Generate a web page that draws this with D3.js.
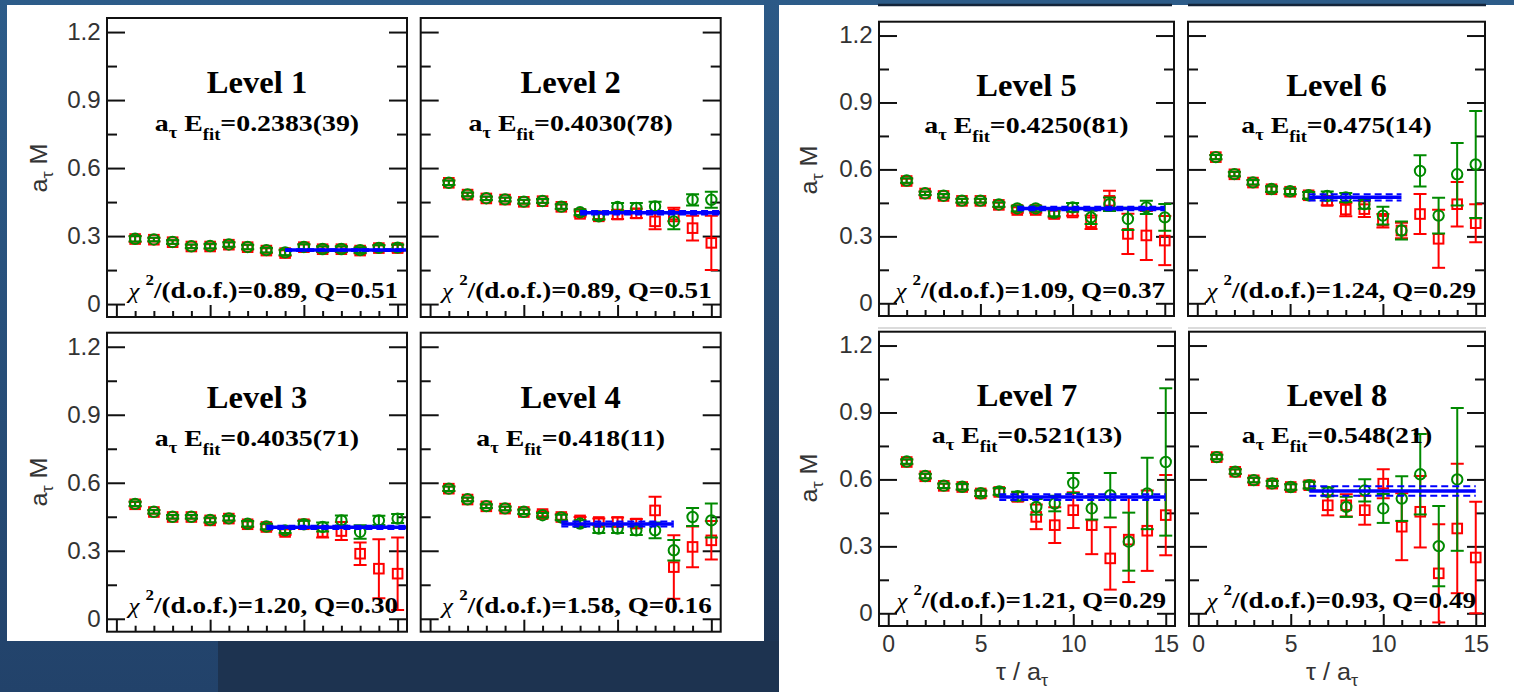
<!DOCTYPE html>
<html><head><meta charset="utf-8">
<script src="https://cdn.jsdelivr.net/npm/d3@7"></script>
<style>body{margin:0;background:#24456c;} svg{display:block}</style>
</head><body>
<svg id="c" width="1514" height="692"></svg>
<script>
// ---------- DATA ----------
const tau = [1,2,3,4,5,6,7,8,9,10,11,12,13,14,15];

const red1      = [.287,.284,.273,.254,.254,.262,.251,.236,.225,.251,.242,.242,.236,.247,.247];
const red1Err   = [.012,.008,.008,.008,.010,.010,.010,.010,.012,.012,.012,.012,.012,.012,.014];
const green1    = [.288,.285,.274,.255,.256,.263,.252,.238,.228,.252,.243,.243,.238,.248,.249];
const green1Err = [.012,.008,.008,.008,.010,.010,.010,.010,.012,.012,.012,.012,.012,.012,.014];

const red2      = [.535,.483,.466,.461,.451,.454,.429,.398,.387,.395,.400,.365,.395,.335,.270];
const red2Err   = [.010,.008,.008,.008,.008,.008,.010,.012,.012,.020,.020,.035,.030,.055,.120];
const green2    = [.535,.484,.467,.462,.452,.455,.430,.405,.387,.428,.424,.431,.365,.460,.460];
const green2Err = [.010,.008,.008,.008,.008,.008,.010,.012,.015,.018,.022,.020,.035,.025,.035];

const red3      = [.505,.471,.449,.449,.434,.442,.417,.405,.383,.417,.383,.387,.287,.221,.199];
const red3Err   = [.010,.008,.008,.008,.010,.010,.012,.012,.012,.015,.025,.040,.050,.130,.160];
const green3    = [.507,.472,.450,.450,.436,.443,.419,.407,.390,.417,.405,.434,.383,.434,.442];
const green3Err = [.010,.008,.008,.008,.010,.010,.012,.012,.012,.015,.020,.022,.030,.020,.020];

const red4      = [.574,.526,.496,.486,.471,.462,.449,.434,.427,.427,.420,.478,.228,.317,.346];
const red4Err   = [.010,.008,.008,.008,.010,.010,.012,.015,.015,.020,.020,.060,.140,.090,.085];
const green4    = [.574,.527,.497,.487,.472,.457,.447,.420,.398,.398,.390,.390,.302,.449,.434];
const green4Err = [.010,.008,.008,.008,.010,.010,.012,.015,.020,.020,.020,.035,.045,.040,.075];

const red5      = [.548,.492,.481,.459,.459,.441,.418,.418,.400,.407,.363,.459,.311,.304,.281];
const red5Err   = [.010,.008,.008,.008,.008,.010,.012,.012,.015,.015,.030,.045,.090,.110,.110];
const green5    = [.550,.493,.482,.460,.460,.443,.425,.425,.405,.430,.385,.444,.378,.430,.385];
const green5Err = [.010,.008,.008,.008,.008,.010,.012,.012,.015,.020,.030,.030,.050,.030,.060];

const red6      = [.655,.578,.541,.511,.500,.484,.459,.420,.422,.370,.326,.400,.289,.444,.359];
const red6Err   = [.010,.010,.010,.012,.012,.015,.020,.030,.035,.030,.035,.090,.130,.100,.085];
const green6    = [.655,.579,.542,.512,.502,.484,.481,.474,.444,.393,.326,.593,.393,.578,.622];
const green6Err = [.010,.010,.010,.012,.012,.015,.020,.020,.020,.040,.040,.070,.080,.140,.240];

const red7      = [.678,.614,.571,.566,.537,.544,.522,.432,.395,.462,.395,.246,.330,.370,.440];
const red7Err   = [.010,.010,.010,.012,.012,.015,.020,.055,.080,.080,.130,.140,.190,.180,.180];
const green7    = [.680,.615,.572,.567,.538,.546,.525,.477,.492,.584,.470,.529,.321,.537,.678];
const green7Err = [.010,.010,.010,.012,.012,.015,.020,.035,.035,.045,.050,.100,.130,.160,.330];

const red8      = [.700,.634,.596,.581,.566,.574,.484,.484,.462,.581,.388,.455,.179,.380,.250];
const red8Err   = [.010,.010,.010,.012,.012,.015,.045,.050,.065,.065,.150,.160,.220,.290,.250];
const green8    = [.700,.635,.597,.582,.566,.574,.544,.477,.551,.470,.514,.623,.301,.600,null];
const green8Err = [.010,.010,.010,.012,.012,.015,.020,.045,.050,.065,.100,.180,.180,.320,null];

const levelNames = ["Level 1","Level 2","Level 3","Level 4","Level 5","Level 6","Level 7","Level 8"];
const eFitLabels = ["=0.2383(39)","=0.4030(78)","=0.4035(71)","=0.418(11)","=0.4250(81)","=0.475(14)","=0.521(13)","=0.548(21)"];
const fitValue   = [0.2383,0.4030,0.4035,0.418,0.4250,0.475,0.521,0.548];
const fitError   = [0.0039,0.0078,0.0071,0.011,0.0081,0.014,0.013,0.021];
const fitFrom    = [9,8,8,7,7,6,6,6];
const fitTo      = [15.5,15.5,15.5,13,15,11,15,15];
const chi2Labels = ["0.89","0.89","1.20","1.58","1.09","1.24","1.21","0.93"];
const qLabels    = ["0.51","0.51","0.30","0.16","0.37","0.29","0.29","0.49"];

const yMajor = [0,0.3,0.6,0.9,1.2];
const yMajorLabels = ["0","0.3","0.6","0.9","1.2"];
const yMinor = [0.15,0.45,0.75,1.05];
const xMajor = [0,5,10,15];
const xMajorLabels = ["0","5","10","15"];
const xMinor = [1,2,3,4,6,7,8,9,11,12,13,14];

const reds   = [red1,red2,red3,red4,red5,red6,red7,red8];
const redErr = [red1Err,red2Err,red3Err,red4Err,red5Err,red6Err,red7Err,red8Err];
const greens = [green1,green2,green3,green4,green5,green6,green7,green8];
const greenErr = [green1Err,green2Err,green3Err,green4Err,green5Err,green6Err,green7Err,green8Err];

// ---------- LAYOUT ----------
const geom = [
  {x0:107,  x1:407,  y0:18,    y1:317,  yl:true,  xl:false, lab:[47,168]},
  {x0:420.7,x1:720.7,y0:18,    y1:317,  yl:false, xl:false},
  {x0:107,  x1:407,  y0:332.7, y1:631.7,yl:true,  xl:false, lab:[47,482]},
  {x0:420.7,x1:720.7,y0:332.7, y1:631.7,yl:false, xl:false},
  {x0:879,  x1:1174, y0:21.7,  y1:316,  yl:true,  xl:false, lab:[817,170]},
  {x0:1188, x1:1485, y0:21.7,  y1:316,  yl:false, xl:false},
  {x0:879,  x1:1175, y0:331.7, y1:626,  yl:true,  xl:true,  lab:[817,478]},
  {x0:1189, x1:1485, y0:331.7, y1:626,  yl:false, xl:true}
];

const svg = d3.select('#c');
const defs = svg.append('defs');
const g1 = defs.append('linearGradient').attr('id','bg').attr('x1',0).attr('y1',0).attr('x2',0).attr('y2',1);
g1.append('stop').attr('offset','0%').attr('stop-color','#2d5c89');
g1.append('stop').attr('offset','100%').attr('stop-color','#22426a');
const g2 = defs.append('linearGradient').attr('id','bg2').attr('x1',0).attr('y1',0).attr('x2',0).attr('y2',1);
g2.append('stop').attr('offset','0%').attr('stop-color','#2c5a87');
g2.append('stop').attr('offset','100%').attr('stop-color','#1c3250');

svg.append('rect').attr('width',1514).attr('height',692).attr('fill','url(#bg)');
svg.append('rect').attr('x',764).attr('y',0).attr('width',15).attr('height',692).attr('fill','url(#bg2)');
svg.append('rect').attr('x',218).attr('y',641).attr('width',561).attr('height',51).attr('fill','#1d3350');
svg.append('rect').attr('x',7).attr('y',5).attr('width',757).attr('height',636).attr('fill','#fff');
svg.append('rect').attr('x',779).attr('y',5).attr('width',735).attr('height',687).attr('fill','#fff');
// cropped frames of panels above / separators
[[878,1172],[1188,1486]].forEach(([a,b])=>{
  svg.append('line').attr('x1',a).attr('x2',b).attr('y1',5).attr('y2',5).attr('stroke','#14243a').attr('stroke-width',2.5);
  svg.append('line').attr('x1',a).attr('x2',b).attr('y1',328).attr('y2',328).attr('stroke','#cfcfcf').attr('stroke-width',1.5);
});

function richText(parent, x, y, anchor, sx, family, parts, rotate, fill) {
  const t = parent.append('text')
    .attr('transform', `translate(${x},${y})` + (rotate ? ` rotate(${rotate})` : '') + ` scale(${sx},1)`)
    .attr('text-anchor', anchor).attr('font-family', family).attr('fill', fill || '#000');
  let cur = 0;
  parts.forEach(p => {
    const ts = t.append('tspan').text(p.t).attr('font-size', p.size);
    const s = p.shift || 0;
    if (s - cur) ts.attr('dy', s - cur);
    cur = s;
    if (p.weight) ts.attr('font-weight', p.weight);
    if (p.style) ts.attr('font-style', p.style);
  });
  return t;
}

const SERIF = "'Liberation Serif','Times New Roman',serif";
const SANS = "'Liberation Sans',Arial,sans-serif";

geom.forEach((p, i) => {
  const x = d3.scaleLinear().domain([-0.5, 15.5]).range([p.x0, p.x1]);
  const y = d3.scaleLinear().domain([-0.057, 1.262]).range([p.y1, p.y0]);
  const g = svg.append('g');
  const cid = 'clip' + i;
  defs.append('clipPath').attr('id', cid).append('rect')
    .attr('x', p.x0).attr('y', p.y0).attr('width', p.x1 - p.x0).attr('height', p.y1 - p.y0);

  // axes / ticks
  const styleAxis = (sel, w) => {
    sel.select('.domain').remove();
    sel.selectAll('.tick line').attr('stroke', '#111').attr('stroke-width', w);
    sel.selectAll('text').attr('font-family', SANS).attr('font-size', 23).attr('fill', '#333');
  };
  const yFmt = d => p.yl ? yMajorLabels[yMajor.indexOf(d)] : '';
  g.append('g').attr('transform', `translate(${p.x0},0)`)
    .call(d3.axisLeft(y).tickValues(yMajor).tickSizeInner(-18).tickSizeOuter(0).tickPadding(6).tickFormat(yFmt))
    .call(s => styleAxis(s, 2))
    .call(s => s.selectAll('text').attr('transform', 'scale(1.05,1)'));
  g.append('g').attr('transform', `translate(${p.x0},0)`)
    .call(d3.axisLeft(y).tickValues(yMinor).tickSizeInner(-10).tickSizeOuter(0).tickFormat(''))
    .call(s => styleAxis(s, 2));
  g.append('g').attr('transform', `translate(${p.x1},0)`)
    .call(d3.axisRight(y).tickValues(yMajor).tickSizeInner(-18).tickSizeOuter(0).tickFormat(''))
    .call(s => styleAxis(s, 2));
  g.append('g').attr('transform', `translate(${p.x1},0)`)
    .call(d3.axisRight(y).tickValues(yMinor).tickSizeInner(-10).tickSizeOuter(0).tickFormat(''))
    .call(s => styleAxis(s, 2));
  const xFmt = d => p.xl ? xMajorLabels[xMajor.indexOf(d)] : '';
  g.append('g').attr('transform', `translate(0,${p.y1})`)
    .call(d3.axisBottom(x).tickValues(xMajor).tickSizeInner(-12).tickSizeOuter(0).tickPadding(10).tickFormat(xFmt))
    .call(s => styleAxis(s, 2));
  g.append('g').attr('transform', `translate(0,${p.y1})`)
    .call(d3.axisBottom(x).tickValues(xMinor).tickSizeInner(-6).tickSizeOuter(0).tickFormat(''))
    .call(s => styleAxis(s, 2));

  // data
  const dg = g.append('g').attr('clip-path', `url(#${cid})`);
  const drawSeries = (vals, errs, color, shape) => {
    const pts = tau.map((t, k) => ({t, v: vals[k], e: errs[k]})).filter(d => d.v != null);
    const sg = dg.append('g').attr('stroke', color).attr('fill', 'none').attr('stroke-width', 2);
    pts.forEach(d => {
      const cx = x(d.t), yt = y(d.v + d.e), yb = y(d.v - d.e);
      sg.append('line').attr('x1', cx).attr('x2', cx).attr('y1', yt).attr('y2', yb);
      sg.append('line').attr('x1', cx - 6.5).attr('x2', cx + 6.5).attr('y1', yt).attr('y2', yt);
      sg.append('line').attr('x1', cx - 6.5).attr('x2', cx + 6.5).attr('y1', yb).attr('y2', yb);
      if (shape === 'square') {
        sg.append('rect').attr('x', cx - 4.8).attr('y', y(d.v) - 4.8).attr('width', 9.6).attr('height', 9.6);
      } else {
        sg.append('circle').attr('cx', cx).attr('cy', y(d.v)).attr('r', 5.2);
      }
    });
  };
  drawSeries(reds[i], redErr[i], '#ff0000', 'square');
  drawSeries(greens[i], greenErr[i], '#008a00', 'circle');

  // fit band
  const fx0 = x(fitFrom[i]), fx1 = x(fitTo[i]);
  [fitValue[i] + fitError[i], fitValue[i] - fitError[i]].forEach(v => {
    dg.append('line').attr('x1', fx0).attr('x2', fx1).attr('y1', y(v)).attr('y2', y(v))
      .attr('stroke', '#0000ff').attr('stroke-width', 2).attr('stroke-dasharray', '7,4');
  });
  dg.append('line').attr('x1', fx0).attr('x2', fx1).attr('y1', y(fitValue[i])).attr('y2', y(fitValue[i]))
    .attr('stroke', '#0000ff').attr('stroke-width', 3.5);

  // frame
  g.append('rect').attr('x', p.x0).attr('y', p.y0).attr('width', p.x1 - p.x0).attr('height', p.y1 - p.y0)
    .attr('fill', 'none').attr('stroke', '#111').attr('stroke-width', 2);

  // annotations
  const cx = (p.x0 + p.x1) / 2;
  richText(g, cx, y(0.93), 'middle', 1.05, SERIF, [{t: levelNames[i], size: 31, weight: 'bold'}]);
  richText(g, cx, y(0.762), 'middle', 1.16, SERIF, [
    {t: 'a', size: 24, weight: 'bold'},
    {t: 'τ', size: 16, weight: 'bold', shift: 7},
    {t: '\u00a0E', size: 24, weight: 'bold', shift: 0},
    {t: 'fit', size: 16, weight: 'bold', shift: 9},
    {t: eFitLabels[i], size: 24, weight: 'bold', shift: 0}
  ]);
  richText(g, p.x1 - 9, y(0.025), 'end', 1.13, SERIF, [
    {t: 'χ', size: 22, style: 'italic'},
    {t: '\u00a0', size: 22},
    {t: '2', size: 15, weight: 'bold', shift: -13},
    {t: '/(d.o.f.)=' + chi2Labels[i] + ', Q=' + qLabels[i], size: 24, weight: 'bold', shift: 0}
  ]);

  if (p.lab) {
    richText(svg, p.lab[0], p.lab[1], 'middle', 1.05, SANS, [
      {t: 'a', size: 24},
      {t: 'τ', size: 17, shift: 6},
      {t: '\u00a0M', size: 24, shift: 0}
    ], -90, '#333');
  }
  if (p.xl) {
    richText(svg, cx - 5, 680, 'middle', 1.05, SANS, [
      {t: 'τ / a', size: 24},
      {t: 'τ', size: 17, shift: 6}
    ], 0, '#333');
  }
});
</script>
</body></html>
